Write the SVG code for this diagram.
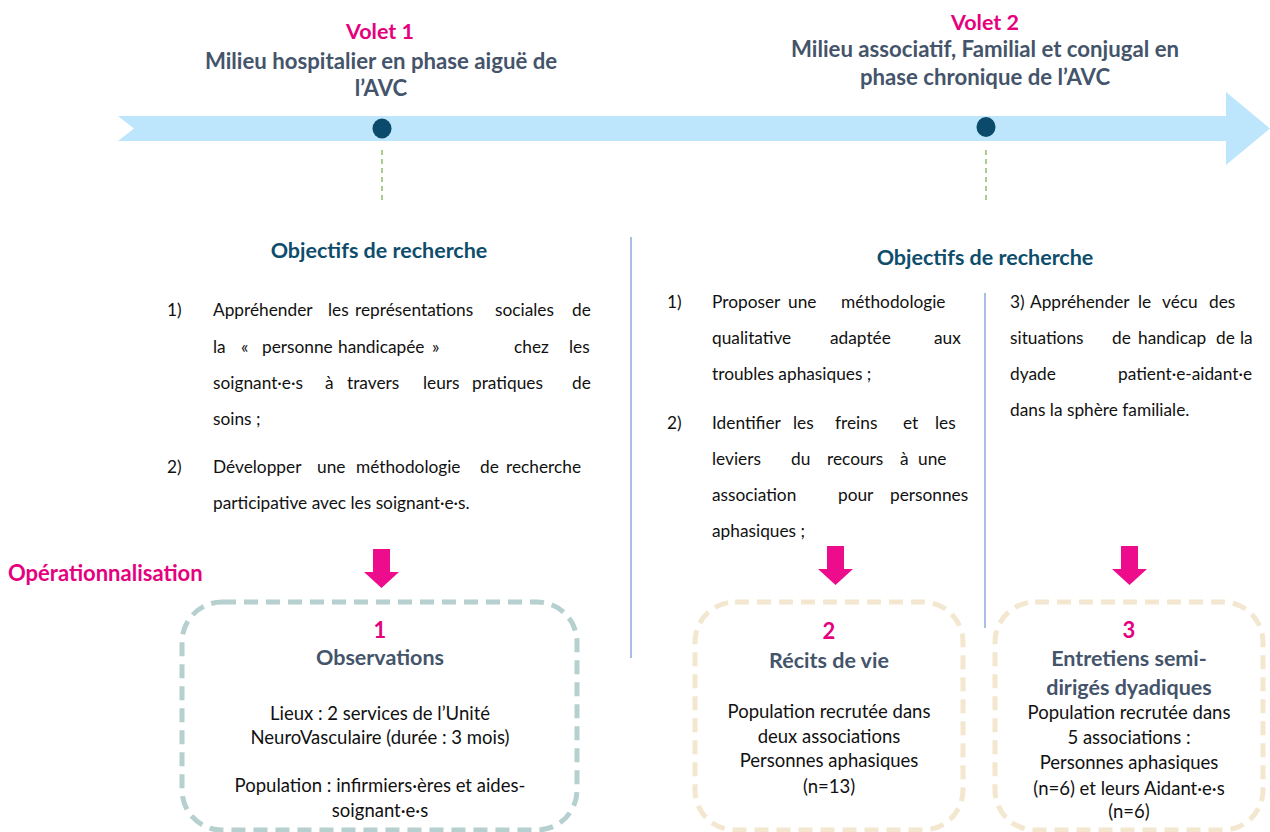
<svg xmlns="http://www.w3.org/2000/svg" width="1270" height="832" viewBox="0 0 1270 832">
<style>
text{font-family:"Lato","Carlito","Liberation Sans",sans-serif;}
.pink{fill:#E5007E;font-weight:bold;}
.volet{font-size:21.5px;}
.head{fill:#44546A;font-weight:bold;font-size:22.2px;}
.obj{fill:#0E4D6B;font-weight:bold;font-size:21.5px;}
.body{fill:#111;font-size:18.5px;}
.para{fill:#111;font-size:17.3px;}
.btitle{fill:#44546A;font-weight:bold;font-size:21.5px;}
.num{font-size:22px;}
.mid{text-anchor:middle;}
.box1{fill:none;stroke:#B6CFCF;stroke-width:5;stroke-dasharray:14 8;}
.box2{fill:none;stroke:#F3E7D0;stroke-width:5;stroke-dasharray:14 8;}
.guide{stroke:#70AD47;stroke-width:1.2;stroke-dasharray:5 4;}
.sep{stroke:#8EA9DB;stroke-width:1.5;}
</style>
<defs>
<path id="pinkArrow" d="M-8.5,0 H8.5 V23 H17.5 L0,39 L-17.5,23 H-8.5 Z" fill="#EC0C8C"/>
</defs>

<g id="timeline">
<polygon points="118,116 1226,116 1226,92 1270,128.5 1226,165 1226,141 118,141 134,128.5" fill="#BDE5FB"/>
<ellipse cx="382" cy="128.5" rx="9.5" ry="10" fill="#0B4A6B"/>
<ellipse cx="986" cy="127" rx="9.5" ry="10" fill="#0B4A6B"/>
</g>

<g id="volet1">
<text class="pink volet mid" x="380" y="39">Volet 1</text>
<text class="head mid" x="381" y="69">Milieu hospitalier en phase aiguë de</text>
<text class="head mid" x="381" y="96">l’AVC</text>
</g>

<g id="volet2">
<text class="pink volet mid" x="985" y="30">Volet 2</text>
<text class="head mid" x="985" y="57">Milieu associatif, Familial et conjugal en</text>
<text class="head mid" x="985" y="85">phase chronique de l’AVC</text>
</g>

<g id="connectors">
<line class="guide" x1="382" y1="150" x2="382" y2="200"/>
<line class="guide" x1="986" y1="150" x2="986" y2="200"/>
<line class="sep" x1="631" y1="237" x2="631" y2="658"/>
<line class="sep" x1="985" y1="293" x2="985" y2="628"/>
<use href="#pinkArrow" x="381.5" y="549"/>
<use href="#pinkArrow" x="835.5" y="546"/>
<use href="#pinkArrow" x="1129.5" y="546"/>
</g>

<g id="objectifs1">
<text class="obj mid" x="379" y="258">Objectifs de recherche</text>
<text class="para">
<tspan x="167" y="316">1)</tspan>
<tspan x="213" y="316">Appréhender</tspan><tspan x="328" y="316">les</tspan><tspan x="355" y="316">représentations</tspan><tspan x="495" y="316">sociales</tspan><tspan x="572" y="316">de</tspan>
<tspan x="213" y="353">la</tspan><tspan x="241" y="353">«</tspan><tspan x="262" y="353">personne</tspan><tspan x="338" y="353">handicapée</tspan><tspan x="432" y="353">»</tspan><tspan x="514" y="353">chez</tspan><tspan x="569" y="353">les</tspan>
<tspan x="213" y="389">soignant·e·s</tspan><tspan x="325" y="389">à</tspan><tspan x="347" y="389">travers</tspan><tspan x="423" y="389">leurs</tspan><tspan x="472" y="389">pratiques</tspan><tspan x="572" y="389">de</tspan>
<tspan x="213" y="425">soins ;</tspan>
<tspan x="167" y="473">2)</tspan>
<tspan x="213" y="473">Développer</tspan><tspan x="317" y="473">une</tspan><tspan x="356" y="473">méthodologie</tspan><tspan x="480" y="473">de</tspan><tspan x="506" y="473">recherche</tspan>
<tspan x="213" y="509">participative avec les soignant·e·s.</tspan>
</text>
</g>

<g id="objectifs2">
<text class="obj mid" x="985" y="265">Objectifs de recherche</text>
<text class="para">
<tspan x="667" y="308">1)</tspan>
<tspan x="712" y="308">Proposer</tspan><tspan x="788" y="308">une</tspan><tspan x="841" y="308">méthodologie</tspan>
<tspan x="712" y="344">qualitative</tspan><tspan x="830" y="344">adaptée</tspan><tspan x="934" y="344">aux</tspan>
<tspan x="712" y="380">troubles aphasiques ;</tspan>
<tspan x="667" y="429">2)</tspan>
<tspan x="712" y="429">Identifier</tspan><tspan x="793" y="429">les</tspan><tspan x="835" y="429">freins</tspan><tspan x="903" y="429">et</tspan><tspan x="935" y="429">les</tspan>
<tspan x="712" y="465">leviers</tspan><tspan x="791" y="465">du</tspan><tspan x="827" y="465">recours</tspan><tspan x="900" y="465">à</tspan><tspan x="918" y="465">une</tspan>
<tspan x="712" y="501">association</tspan><tspan x="838" y="501">pour</tspan><tspan x="890" y="501">personnes</tspan>
<tspan x="712" y="537">aphasiques ;</tspan>
</text>
<text class="para">
<tspan x="1010" y="308">3)</tspan><tspan x="1030" y="308">Appréhender</tspan><tspan x="1138" y="308">le</tspan><tspan x="1162" y="308">vécu</tspan><tspan x="1209" y="308">des</tspan>
<tspan x="1010" y="344">situations</tspan><tspan x="1112" y="344">de</tspan><tspan x="1138" y="344">handicap</tspan><tspan x="1216" y="344">de</tspan><tspan x="1240" y="344">la</tspan>
<tspan x="1010" y="380">dyade</tspan><tspan x="1118" y="380">patient·e-aidant·e</tspan>
<tspan x="1010" y="416">dans la sphère familiale.</tspan>
</text>
</g>

<g id="operationnalisation">
<text class="pink" x="8" y="581" style="font-size:22px">Opérationnalisation</text>
</g>

<g id="box1">
<rect class="box1" x="182" y="602" width="395" height="228" rx="40"/>
<text class="pink num mid" x="380" y="638">1</text>
<text class="btitle mid" x="380" y="665">Observations</text>
<text class="body mid" x="380" y="720">Lieux : 2 services de l’Unité</text>
<text class="body mid" x="380" y="744">NeuroVasculaire (durée : 3 mois)</text>
<text class="body mid" x="380" y="792">Population : infirmiers·ères et aides-</text>
<text class="body mid" x="380" y="817">soignant·e·s</text>
</g>

<g id="box2">
<rect class="box2" x="695" y="602" width="268" height="228" rx="40"/>
<text class="pink num mid" x="829" y="639">2</text>
<text class="btitle mid" x="829" y="668">Récits de vie</text>
<text class="body mid" x="829" y="718">Population recrutée dans</text>
<text class="body mid" x="829" y="743">deux associations</text>
<text class="body mid" x="829" y="767">Personnes aphasiques</text>
<text class="body mid" x="829" y="793">(n=13)</text>
</g>

<g id="box3">
<rect class="box2" x="995" y="602" width="268" height="228" rx="40"/>
<text class="pink num mid" x="1129" y="638">3</text>
<text class="btitle mid" x="1129" y="666">Entretiens semi-</text>
<text class="btitle mid" x="1129" y="695">dirigés dyadiques</text>
<text class="body mid" x="1129" y="719">Population recrutée dans</text>
<text class="body mid" x="1129" y="744">5 associations :</text>
<text class="body mid" x="1129" y="769">Personnes aphasiques</text>
<text class="body mid" x="1129" y="795">(n=6) et leurs Aidant·e·s</text>
<text class="body mid" x="1129" y="818">(n=6)</text>
</g>
</svg>
